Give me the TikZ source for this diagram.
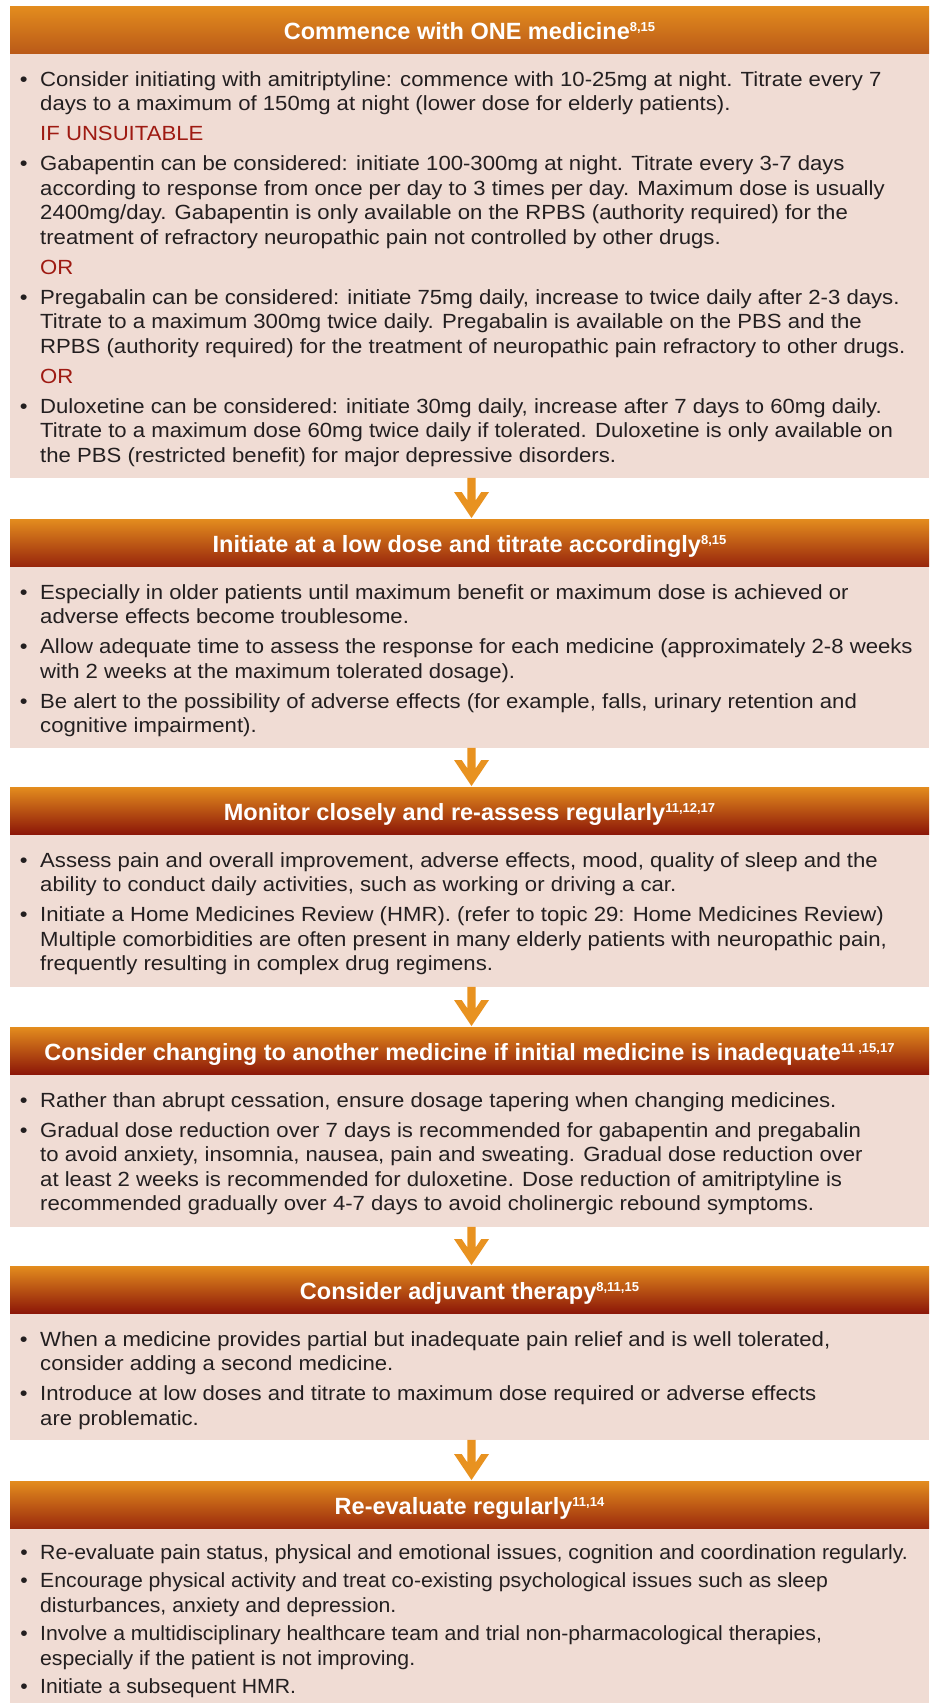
\documentclass[tikz,border=0pt]{standalone}
\usepackage{fontspec}
\setmainfont{Liberation Sans}
\newfontfamily\bodyfont[FakeStretch=1.08]{Liberation Sans}
\newfontfamily\narrowfont[FakeStretch=1.035]{Liberation Sans}
\definecolor{headtop}{RGB}{227,140,30}
\definecolor{hbotA}{RGB}{186,90,24}
\definecolor{hbotB}{RGB}{152,38,12}
\definecolor{hbotC}{RGB}{140,22,8}
\definecolor{hbotD}{RGB}{155,42,12}
\definecolor{bodyc}{RGB}{240,220,212}
\definecolor{txtc}{RGB}{35,31,32}
\definecolor{redc}{RGB}{158,26,18}
\definecolor{arrowc}{RGB}{232,146,32}
\newcommand\sups[1]{\raisebox{7.5pt}{\fontsize{13}{13}\selectfont #1}}
\newcommand\bul{\leavevmode\llap{\textbullet\hspace{12.5pt}}}
\newcommand\redl[1]{{\color{redc}#1}}
\newcommand\bodytxt[1]{\parbox[t]{1000pt}{\bodyfont\fontsize{20.5}{24.5}\selectfont\raggedright #1}}
\newcommand\narrowtxt[1]{\parbox[t]{1000pt}{\narrowfont\fontsize{20.5}{24.5}\selectfont\raggedright #1}}
\newcommand\flowarr[2]{%
  \fill[arrowc] ([xshift=-2.2pt]#1.south) -- ([xshift=-2.2pt,yshift=18.7pt]#2.north)
   -- ([xshift=-7.8pt,yshift=27pt]#2.north) -- ([xshift=-15.5pt,yshift=27pt]#2.north)
   -- ([xshift=2pt,yshift=1pt]#2.north) -- ([xshift=19.5pt,yshift=27pt]#2.north)
   -- ([xshift=11.8pt,yshift=27pt]#2.north) -- ([xshift=6.2pt,yshift=18.7pt]#2.north)
   -- ([xshift=6.2pt]#1.south) -- cycle;}
\tikzset{
  headbox/.style={rectangle, inner sep=0pt, minimum width=919pt, minimum height=47pt,
    anchor=north, text=white, font=\fontsize{23.5}{28}\selectfont\bfseries,
    text height=21pt, text depth=2pt, top color=headtop},
  bodybox/.style={rectangle, inner sep=0pt, minimum width=919pt, anchor=north, fill=bodyc},
  bodytext/.style={anchor=base west, inner sep=0pt, text=txtc},
}
\begin{document}
\begin{tikzpicture}[x=1pt,y=-1pt]
\fill[white] (0,0) rectangle (934,1703);
\useasboundingbox (0,0) rectangle (934,1703);

% Box 1
\node[headbox, bottom color=hbotA] (h1) at (469.5,6) {Commence with ONE medicine\sups{8,15}};
\node[bodybox, minimum height=424pt] (b1) at (h1.south) {};
\node[bodytext] (t1) at (40,86) {\bodytxt{%
\bul Consider initiating with amitriptyline: commence with 10-25mg at night. Titrate every 7\\
days to a maximum of 150mg at night (lower dose for elderly patients).\\[5.5pt]
\redl{IF UNSUITABLE}\\[5.5pt]
\bul Gabapentin can be considered: initiate 100-300mg at night. Titrate every 3-7 days\\
according to response from once per day to 3 times per day. Maximum dose is usually\\
2400mg/day. Gabapentin is only available on the RPBS (authority required) for the\\
treatment of refractory neuropathic pain not controlled by other drugs.\\[5.5pt]
\redl{OR}\\[5.5pt]
\bul Pregabalin can be considered: initiate 75mg daily, increase to twice daily after 2-3 days.\\
Titrate to a maximum 300mg twice daily. Pregabalin is available on the PBS and the\\
RPBS (authority required) for the treatment of neuropathic pain refractory to other drugs.\\[5.5pt]
\redl{OR}\\[5.5pt]
\bul Duloxetine can be considered: initiate 30mg daily, increase after 7 days to 60mg daily.\\
Titrate to a maximum dose 60mg twice daily if tolerated. Duloxetine is only available on\\
the PBS (restricted benefit) for major depressive disorders.}};

% Box 2
\node[headbox, bottom color=hbotB] (h2) at (469.5,519) {Initiate at a low dose and titrate accordingly\sups{8,15}};
\node[bodybox, minimum height=181pt] (b2) at (h2.south) {};
\node[bodytext] (t2) at (40,599) {\bodytxt{%
\bul Especially in older patients until maximum benefit or maximum dose is achieved or\\
adverse effects become troublesome.\\[5.5pt]
\bul Allow adequate time to assess the response for each medicine (approximately 2-8 weeks\\
with 2 weeks at the maximum tolerated dosage).\\[5.5pt]
\bul Be alert to the possibility of adverse effects (for example, falls, urinary retention and\\
cognitive impairment).}};

% Box 3
\node[headbox, bottom color=hbotC] (h3) at (469.5,787) {Monitor closely and re-assess regularly\sups{11,12,17}};
\node[bodybox, minimum height=152pt] (b3) at (h3.south) {};
\node[bodytext] (t3) at (40,867) {\bodytxt{%
\bul Assess pain and overall improvement, adverse effects, mood, quality of sleep and the\\
ability to conduct daily activities, such as working or driving a car.\\[5.5pt]
\bul Initiate a Home Medicines Review (HMR). (refer to topic 29: Home Medicines Review)\\
Multiple comorbidities are often present in many elderly patients with neuropathic pain,\\
frequently resulting in complex drug regimens.}};

% Box 4
\node[headbox, bottom color=hbotC] (h4) at (469.5,1027) {Consider changing to another medicine if initial medicine is inadequate\sups{11 ,15,17}};
\node[bodybox, minimum height=152pt] (b4) at (h4.south) {};
\node[bodytext] (t4) at (40,1107) {\bodytxt{%
\bul Rather than abrupt cessation, ensure dosage tapering when changing medicines.\\[5.5pt]
\bul Gradual dose reduction over 7 days is recommended for gabapentin and pregabalin\\
to avoid anxiety, insomnia, nausea, pain and sweating. Gradual dose reduction over\\
at least 2 weeks is recommended for duloxetine. Dose reduction of amitriptyline is\\
recommended gradually over 4-7 days to avoid cholinergic rebound symptoms.}};

% Box 5
\node[headbox, bottom color=hbotC] (h5) at (469.5,1266) {Consider adjuvant therapy\sups{8,11,15}};
\node[bodybox, minimum height=126pt] (b5) at (h5.south) {};
\node[bodytext] (t5) at (40,1346) {\bodytxt{%
\bul When a medicine provides partial but inadequate pain relief and is well tolerated,\\
consider adding a second medicine.\\[5.5pt]
\bul Introduce at low doses and titrate to maximum dose required or adverse effects\\
are problematic.}};

% Box 6
\node[headbox, bottom color=hbotD] (h6) at (469.5,1481) {Re-evaluate regularly\sups{11,14}};
\node[bodybox, minimum height=175pt] (b6) at (h6.south) {};
\node[bodytext] (t6) at (40,1559) {\narrowtxt{%
\bul Re-evaluate pain status, physical and emotional issues, cognition and coordination regularly.\\[4pt]
\bul Encourage physical activity and treat co-existing psychological issues such as sleep\\
disturbances, anxiety and depression.\\[4pt]
\bul Involve a multidisciplinary healthcare team and trial non-pharmacological therapies,\\
especially if the patient is not improving.\\[4pt]
\bul Initiate a subsequent HMR.}};

% Arrows
\flowarr{b1}{h2}
\flowarr{b2}{h3}
\flowarr{b3}{h4}
\flowarr{b4}{h5}
\flowarr{b5}{h6}
\end{tikzpicture}
\end{document}
